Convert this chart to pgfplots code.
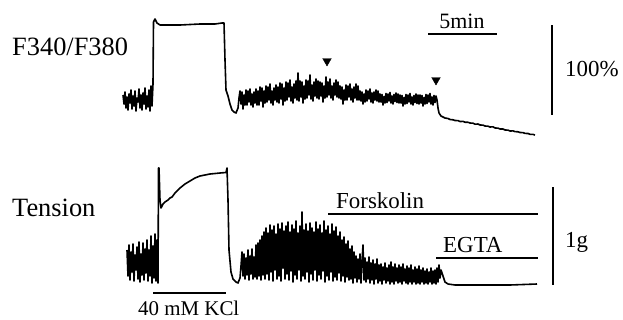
\documentclass[border=0pt]{standalone}
\usepackage{pgfplots}
\pgfplotsset{compat=1.18}
\usepackage{fontspec}
\setmainfont{Liberation Serif}
\begin{document}
\begin{tikzpicture}
\begin{axis}[
  scale only axis, width=623bp, height=320bp,
  xmin=0, xmax=623, ymin=0, ymax=320, y dir=reverse,
  hide axis, clip=false]
% ---------- F340/F380 trace ----------
\addplot[black, line width=1.6bp, line join=round] coordinates {
(123,95)(124,104)(125,92)(126,108)(127,97)(128,110)(129,94)(130,103)(131,90)(132,109)(133,96)(134,106)(135,91)(136,111)(137,98)(138,102)(139,89)(140,108)(141,95)(142,110)(143,93)(144,104)(145,88)(146,109)(147,96)(148,107)(149,90)(150,111)(151,86)(152,106)(153,84)
(153.5,22)(155,19)(157,23)(160,25)(180,25)(200,24)(215,24)(222,23)(224,23)
(225,60)(226,90)(228,96)(230,104)(232,110)(234,112)(236,113)(238,108)(239,98)
(240,91)(241,104)(242,92)(243,109)(244,95)(245,105)(246,90)(247,105)(248,91)(249,102)(250,89)(251,105)(252,94)(253,107)(254,92)(255,103)(256,89)(257,105)(258,91)(259,105)
(260,87)(261,101)(262,88)(263,107)(264,91)(265,103)(266,86)(267,102)(268,87)(269,100)(270,84)(271,103)(272,91)(273,105)(274,88)(275,100)(276,85)(277,102)(278,87)(279,103)
(280,83)(281,99)(282,84)(283,105)(284,88)(285,101)(286,82)(287,100)(288,83)(289,97)(290,80)(291,101)(292,87)(293,103)(294,84)(295,98)(296,81)(297,100)(298,73)(299,101)
(300,81)(301,97)(302,82)(303,103)(304,86)(305,99)(306,80)(307,98)(308,81)(309,95)(310,75)(311,99)(312,85)(313,101)(314,82)(315,96)(316,79)(317,98)(318,81)(319,99)
(320,82)(321,96)(322,83)(323,102)(324,86)(325,98)(326,77)(327,97)(328,82)(329,95)(330,79)(331,98)(332,86)(333,100)(334,83)(335,95)(336,80)(337,97)(338,82)(339,98)
(340,86)(341,99)(342,87)(343,104)(344,90)(345,100)(346,85)(347,100)(348,86)(349,97)(350,84)(351,100)(352,89)(353,102)(354,87)(355,98)(356,84)(357,100)(358,86)(359,100)
(360,91)(361,101)(362,92)(363,104)(364,94)(365,102)(366,90)(367,101)(368,91)(369,99)(370,89)(371,102)(372,93)(373,103)(374,92)(375,100)(376,90)(377,101)(378,91)(379,102)
(380,94)(381,102)(382,94.5)(383,105)(384,96.5)(385,103)(386,93.5)(387,102.5)(388,94)(389,101)(390,92.5)(391,103)(392,96)(393,104)(394,94.5)(395,101.5)(396,93)(397,102.5)(398,94)(399,103)
(400,95)(401,103)(402,95.5)(403,106)(404,97.5)(405,104)(406,94.5)(407,103.5)(408,95)(409,102)(410,93.5)(411,104)(412,97)(413,105)(414,95.5)(415,102.5)(416,94)(417,103.5)(418,95)(419,104)
(420,95)(421,103)(422,95.5)(423,106)(424,97.5)(425,104)(426,94.5)(427,103.5)(428,95)(429,102)(430,93.5)(431,104)(432,97)(433,105)(434,95.5)(435,102.5)(436,96)
(437,100)(438,108)(439,113)(441,116)(445,118)(448,118.5)(450,119.5)(453,119.8)(455,120.5)(458,120.6)(460,121.5)(463,121.4)(465,122.2)(468,122.3)(470,123)(473,123.2)(475,124.2)(478,124)(480,125)(483,125.1)(485,126)(488,126.2)(490,127)(493,126.8)(495,128)(498,128.1)(500,129)(503,129)(505,130)(508,130.1)(510,131)(513,130.9)(515,131.6)(518,131.8)(520,132.5)(523,132.6)(525,133.4)(528,133.5)(530,134.3)(533,134.4)(535,135)
};
% ---------- Tension trace ----------
\addplot[black, line width=1.6bp, line join=round] coordinates {
(127,250)(128,276)(129,245)(130,280)(131,252)(132,272)(133,244)(134,281)(135,255)(136,270)(137,247)(138,279)(139,242)(140,282)(141,254)(142,275)(143,243)(144,280)(145,249)(146,273)(147,240)(148,281)(149,250)(150,276)(151,236)(152,283)(153,246)(154,278)(155,234)(156,281)(157,240)(158,283)
(158.5,168)(159,168)(160,200)(161,208)(163,204)(165,202)(168,200)(170,198)(172,197)(175,193)(180,188)(185,184)(190,181)(195,178)(200,176)(205,175)(210,174)(215,173.5)(220,173)(226,172.5)(227,168)(228,200)(229,250)(231,272)(233,279)(236,282)(238,283)(240,278)(241,266)
(242,252)(243,276)(244,254)(245,279)(246,258)(247,275)(248,250)(249,280)(250,256)(251,274)(252,249)(253,279)(254,257)(255,277)(256,245)
(257,279)(258,243)(259,276)(260,240)(261,280)(262,236)(263,275)(264,232)
(265,279)(266,228)(267,274)(268,233)(269,280)(270,225)(271,272)(272,230)(273,281)(274,226)(275,270)(276,234)(277,279)(278,224)(279,276)
(280,229)(281,281)(282,223)(283,268)(284,231)(285,279)(286,226)(287,274)(288,222)(289,280)(290,232)(291,271)(292,225)(293,282)(294,229)(295,275)(296,221)(297,279)(298,233)(299,270)
(300,226)(301,281)(302,212)(303,276)(304,230)(305,279)(306,224)(307,272)(308,231)(309,282)(310,223)(311,274)(312,228)(313,280)(314,232)(315,270)(316,222)(317,281)(318,229)(319,275)
(320,225)(321,279)(322,233)(323,271)(324,221)(325,282)(326,230)(327,276)(328,226)(329,280)(330,234)(331,272)(332,224)(333,281)(334,231)(335,277)(336,227)(337,280)(338,236)(339,273)
(340,232)(341,281)(342,240)(343,276)(344,237)(345,282)(346,244)(347,277)(348,241)(349,280)(350,249)(351,279)(352,246)(353,283)(354,252)(355,278)
(356,256)(357,282)(358,259)(359,279)(360,254)(361,283)(362,261)(363,245)(364,280)(365,258)(366,282)(367,262)(368,279)(369,257)(370,283)(371,263)(372,280)(373,260)(374,284)(375,264)(376,279)(377,259)(378,283)(379,265)
(380,281)(381,264)(382,284)(383,267)(384,280)(385,263)(386,283)(387,268)(388,281)(389,265)(390,284)(391,262)(392,282)(393,267)(394,284)(395,264)(396,281)(397,268)(398,283)(399,265)
(400,282)(401,267)(402,284)(403,264)(404,281)(405,269)(406,283)(407,266)(408,284)(409,268)(410,282)(411,265)(412,284)(413,270)(414,282)(415,267)(416,284)(417,269)(418,283)(419,266)
(420,284)(421,270)(422,282)(423,268)(424,284)(425,271)(426,283)(427,269)(428,284)(429,272)(430,282)(431,268)(432,284)(433,271)(434,283)(435,270)(436,284)(437,268)(438,282)(439,265)(440,278)
(441,270)(443,276)(445,282)(448,284)(455,285)(470,285)(490,285)(510,285)(537,284)
};
% ---------- arrowheads ----------
\addplot[only marks, mark=triangle*, mark size=5, mark options={rotate=180, fill=black, draw=black}] coordinates {(327,61)(436,80)};
% ---------- scale bars and annotation lines ----------
\addplot[black, line width=1.8bp] coordinates {(428,34)(497,34)};
\addplot[black, line width=1.8bp] coordinates {(552,25)(552,115)};
\addplot[black, line width=1.8bp] coordinates {(553,187)(553,285)};
\addplot[black, line width=1.8bp] coordinates {(328,214)(538,214)};
\addplot[black, line width=1.8bp] coordinates {(436,258)(538,258)};
\addplot[black, line width=1.8bp] coordinates {(153,293)(226,293)};
% ---------- labels ----------
\node[anchor=base west, inner sep=0pt, font=\fontsize{26.5}{30}\selectfont] at (axis cs:12,55) {F340/F380};
\node[anchor=base west, inner sep=0pt, font=\fontsize{26.5}{30}\selectfont] at (axis cs:12,216) {Tension};
\node[anchor=base, inner sep=0pt, font=\fontsize{22}{26}\selectfont] at (axis cs:462,28) {5min};
\node[anchor=base west, inner sep=0pt, font=\fontsize{23}{27}\selectfont] at (axis cs:565,76) {100\%};
\node[anchor=base west, inner sep=0pt, font=\fontsize{23}{27}\selectfont] at (axis cs:336,208) {Forskolin};
\node[anchor=base west, inner sep=0pt, font=\fontsize{23}{27}\selectfont] at (axis cs:443,252) {EGTA};
\node[anchor=base west, inner sep=0pt, font=\fontsize{23}{27}\selectfont] at (axis cs:565,247) {1g};
\node[anchor=base west, inner sep=0pt, font=\fontsize{21}{25}\selectfont] at (axis cs:138,315) {40 mM KCl};
\end{axis}
\pgfresetboundingbox
\path[use as bounding box] (current axis.south west) rectangle (current axis.north east);
\end{tikzpicture}
\end{document}
